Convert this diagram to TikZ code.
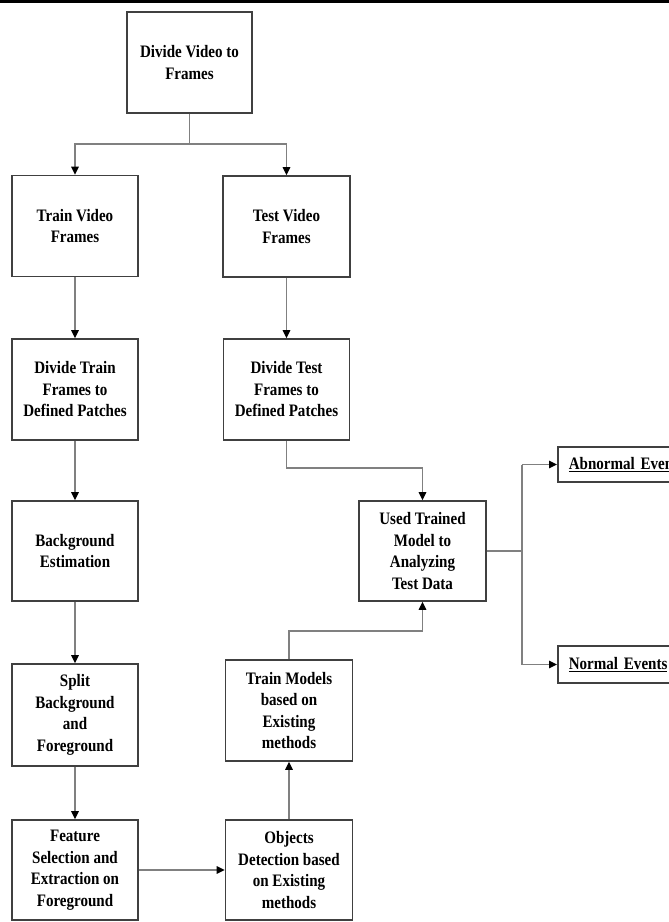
\documentclass[tikz,border=0pt]{standalone}
\usepackage{fontspec}
\setmainfont{Liberation Serif}[FakeStretch=0.86]
\usetikzlibrary{arrows.meta}
\begin{document}
\begin{tikzpicture}[x=1pt,y=-1pt,
  box/.style={draw=black!75, line width=1.6pt, fill=white, align=center,
    font=\fontsize{17.5}{21.5}\selectfont\bfseries, inner sep=0pt},
  evbox/.style={box, align=left, text width=150pt, inner xsep=11pt, anchor=west},
  conn/.style={draw=black!50, line width=1.3pt},
  arr/.style={conn, -{Triangle[length=8pt,width=7.5pt,color=black]}}]
\useasboundingbox (0,0) rectangle (669,922);
\fill[black] (0,0) rectangle (669,3.2);

% boxes
\node[box, minimum width=125, minimum height=101] (top) at (189.5,62.5) {Divide Video to\\Frames};
\node[box, minimum width=126, minimum height=101] (train) at (75,226) {Train Video\\Frames};
\node[box, minimum width=127, minimum height=101] (test) at (286.5,226.5) {Test Video\\Frames};
\node[box, minimum width=126, minimum height=101] (dtrain) at (75,389.5) {Divide Train\\Frames to\\Defined Patches};
\node[box, minimum width=126, minimum height=101] (dtest) at (286.5,389.5) {Divide Test\\Frames to\\Defined Patches};
\node[box, minimum width=126, minimum height=100] (bg) at (75,551) {Background\\Estimation};
\node[box, minimum width=126, minimum height=102] (split) at (75,715) {Split\\Background\\and\\Foreground};
\node[box, minimum width=126, minimum height=100] (feat) at (75,870) {Feature\\Selection and\\Extraction on\\Foreground};
\node[box, minimum width=127, minimum height=100] (obj) at (289,870) {Objects\\Detection based\\on Existing\\methods};
\node[box, minimum width=127, minimum height=101] (trainm) at (289,710.5) {Train Models\\based on\\Existing\\methods};
\node[box, minimum width=127, minimum height=100] (used) at (422.5,551) {Used Trained\\Model to\\Analyzing\\Test Data};
\node[evbox, minimum height=35] (abn) at (557,464.5) {\underline{Abnormal Events}};
\node[evbox, minimum height=37] (norm) at (557,664.5) {\underline{Normal Events}};

% connectors
\coordinate (j1) at (189.5,144);
\draw[conn] (top.south) -- (j1);
\draw[arr] (j1) -| (train.north);
\draw[arr] (j1) -| (test.north);
\draw[arr] (train.south) -- (dtrain.north);
\draw[arr] (test.south) -- (dtest.north);
\coordinate (j2) at (286.5,468);
\draw[arr] (dtest.south) -- (j2) -| (used.north);
\draw[arr] (dtrain.south) -- (bg.north);
\draw[arr] (bg.south) -- (split.north);
\draw[arr] (split.south) -- (feat.north);
\draw[arr] (feat.east) -- (obj.west);
\draw[arr] (obj.north) -- (trainm.south);
\coordinate (j3) at (289,631);
\draw[arr] (trainm.north) -- (j3) -| (used.south);
\coordinate (j4) at (522,551);
\coordinate (ja) at (522,464.5);
\coordinate (jn) at (522,664.5);
\draw[conn] (used.east) -- (j4);
\draw[conn] (ja) -- (jn);
\draw[arr] (ja) -- (abn.west);
\draw[arr] (jn) -- (norm.west);
\end{tikzpicture}
\end{document}
